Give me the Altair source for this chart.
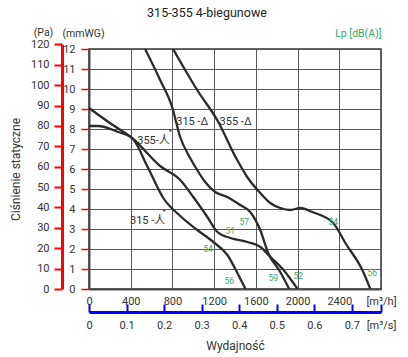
import altair as alt
import pandas as pd

# ---- data (x: flow m3/h, y: static pressure mmWG) ----
c355_star_x = [0, 200, 413, 682, 875, 1000, 1135, 1231, 1356, 1519, 1644, 1740, 1865, 2000]
c355_star_y = [9.05, 8.3, 7.55, 6.15, 5.45, 4.6, 3.6, 2.85, 2.55, 2.35, 2.1, 1.6, 0.95, 0.0]

c315_star_x = [0, 87, 279, 413, 567, 712, 875, 1038, 1192, 1327, 1423, 1500]
c315_star_y = [8.15, 8.15, 7.85, 7.55, 6.05, 4.55, 3.65, 2.95, 2.35, 1.7, 0.8, 0.0]

c315_delta_x = [538, 682, 797, 874, 970, 1037, 1114, 1210, 1325, 1450, 1546, 1642, 1718, 1834, 1920]
c315_delta_y = [12.0, 10.45, 9.1, 7.6, 6.55, 5.95, 5.35, 4.85, 4.6, 4.2, 3.85, 2.95, 1.8, 0.85, 0.0]

c355_delta_x = [806, 922, 1037, 1229, 1421, 1517, 1642, 1738, 1834, 1930, 2026, 2141, 2342, 2458, 2621, 2698]
c355_delta_y = [12.0, 10.95, 9.95, 8.45, 6.45, 5.6, 4.8, 4.3, 4.05, 3.95, 4.05, 3.85, 3.3, 2.3, 0.95, 0.0]

# sound level labels Lp dB(A)
lp_text = ["57", "51", "54", "56", "59", "52", "54", "56"]
lp_x = [1488, 1354, 1142, 1344, 1766, 2006, 2342, 2717]
lp_y = [3.35, 2.9, 2.0, 0.4, 0.55, 0.65, 3.35, 0.8]

# curve name labels
name_text = ["315 -Δ", "355 -Δ", "355-人", "315 -人"]
name_x = [990, 1406, 619, 562]
name_y = [8.35, 8.35, 7.4, 3.4]
star_x = [780, 722]
star_y = [7.85, 3.85]

flow_ticks = [0, 400, 800, 1200, 1600, 2000, 2400, 2800]
mm_ticks = list(range(0, 13))
pa_ticks = list(range(0, 130, 10))
ms_ticks = [0, 0.1, 0.2, 0.3, 0.4, 0.5, 0.6, 0.7, 2800 / 3600]

FONT = "Roboto, Noto Sans CJK SC, sans-serif"
DARK = "#2b2b2b"
GREEN = "#35a86b"
GRID = "#585858"
AX = "#4a4a4a"

rows = []
for name, xs_, ys_ in [("355s", c355_star_x, c355_star_y), ("315s", c315_star_x, c315_star_y),
                       ("315d", c315_delta_x, c315_delta_y), ("355d", c355_delta_x, c355_delta_y)]:
    for x, y in zip(xs_, ys_):
        rows.append({"curve": name, "q": x, "p": y})
df = pd.DataFrame(rows)


def xs():
    return alt.Scale(domain=[0, 2800], nice=False, zero=True)


def ys():
    return alt.Scale(domain=[0, 12], nice=False, zero=True)


def hidden():
    return alt.Axis(labels=False, ticks=False, domain=False, grid=False, title=None)


common = dict(labelOverlap=False, labelFont=FONT, titleFont=FONT)

x_axis = alt.Axis(values=flow_ticks, format="d", grid=True, gridColor=GRID, gridWidth=1,
                  ticks=False, tickSize=0, labelPadding=6, labelFontSize=11, labelColor="#333",
                  labelExpr="datum.value >= 2800 ? '[m³/h]' : datum.label", labelFlush=False,
                  domain=True, domainColor=AX, domainWidth=2,
                  title="Lp [dB(A)]", titleColor=GREEN, titleFontSize=10.5, titleFontWeight="normal",
                  titleAngle=0, titleX=292, titleY=-256, titleAlign="right", titleBaseline="middle",
                  **common)
y_axis = alt.Axis(values=mm_ticks, grid=True, gridColor=GRID, gridWidth=1,
                  ticks=True, tickSize=8, tickColor="red", tickWidth=1.5, labelPadding=6,
                  labelFontSize=11, labelColor="#333", domain=True, domainColor=AX, domainWidth=2,
                  title="(mmWG)", titleFontSize=10.5, titleFontWeight="normal", titleColor="#333",
                  titleAngle=0, titleX=-6, titleY=-16, titleAlign="center", titleBaseline="middle",
                  **common)

lines = alt.Chart(df).mark_line(color=DARK, strokeWidth=2.3, interpolate="monotone", clip=True).encode(
    x=alt.X("q:Q", scale=xs(), axis=x_axis),
    y=alt.Y("p:Q", scale=ys(), axis=y_axis),
    detail="curve:N",
)

lp_df = pd.DataFrame({"t": lp_text, "q": lp_x, "p": lp_y})
lp_layer = alt.Chart(lp_df).mark_text(color=GREEN, fontSize=8.5, font=FONT).encode(
    x=alt.X("q:Q", scale=xs(), axis=hidden()), y=alt.Y("p:Q", scale=ys(), axis=hidden()), text="t:N")

nm_df = pd.DataFrame({"t": name_text, "q": name_x, "p": name_y})
nm_layer = alt.Chart(nm_df).mark_text(color="#333", fontSize=11, font=FONT).encode(
    x=alt.X("q:Q", scale=xs(), axis=hidden()), y=alt.Y("p:Q", scale=ys(), axis=hidden()), text="t:N")

st_df = pd.DataFrame({"t": ["*", "*"], "q": star_x, "p": star_y})
st_layer = alt.Chart(st_df).mark_text(color="#333", fontSize=7, font=FONT).encode(
    x=alt.X("q:Q", scale=xs(), axis=hidden()), y=alt.Y("p:Q", scale=ys(), axis=hidden()), text="t:N")

# Pa axis
pa_df = pd.DataFrame({"pa": pa_ticks})
pa_layer = alt.Chart(pa_df).mark_point(opacity=0, size=0).encode(
    y=alt.Y("pa:Q", scale=alt.Scale(domain=[0, 120], range=[240, -4.6], nice=False),
            axis=alt.Axis(orient="left", offset=27, values=pa_ticks, grid=False,
                          ticks=True, tickSize=8, tickColor="red", tickWidth=2,
                          labelPadding=5, labelFontSize=11, labelColor="#333",
                          domain=True, domainColor="red", domainWidth=3,
                          title="(Pa)", titleFontSize=10.5, titleFontWeight="normal", titleColor="#333",
                          titleAngle=0, titleX=-19, titleY=-17, titleAlign="center",
                          titleBaseline="middle", **common))
)

# m3/s axis
ms_df = pd.DataFrame({"ms": ms_ticks})
ms_layer = alt.Chart(ms_df).mark_point(opacity=0, size=0).encode(
    x=alt.X("ms:Q", scale=alt.Scale(domain=[0, 2800 / 3600], nice=False, zero=True),
            axis=alt.Axis(orient="top", offset=-263, values=ms_ticks, grid=False, format=".1~f",
                          labelExpr="datum.value > 0.75 ? '[m³/s]' : datum.label", labelFlush=False,
                          ticks=True, tickSize=8, tickColor="blue", tickWidth=2,
                          labelPadding=-26,
                          labelBaseline="bottom", labelFontSize=11, labelColor="#333",
                          domain=True, domainColor="blue", domainWidth=3,
                          title="Wydajność", titleFontSize=12, titleFontWeight="normal",
                          titleColor="#333", titleAngle=0, titleX=146, titleY=33,
                          titleAlign="center", titleBaseline="middle", **common))
)

# y title
yt_df = pd.DataFrame({"d": [0, 1]})
yt_layer = alt.Chart(yt_df).mark_point(opacity=0, size=0).encode(
    y=alt.Y("d:Q", axis=alt.Axis(orient="left", offset=0, labels=False, ticks=False, domain=False,
                                 grid=False, title="Ciśnienie statyczne", titleFontSize=12,
                                 titleFontWeight="normal", titleColor="#333", titleAngle=270,
                                 titleX=-74, titleY=120, titleAlign="center",
                                 titleBaseline="middle", titleFont=FONT))
)

chart = alt.layer(lines, lp_layer, nm_layer, st_layer, pa_layer, ms_layer, yt_layer).resolve_scale(
    x="independent", y="independent"
).properties(
    width=292, height=240,
    title=alt.TitleParams("315-355 4-biegunowe", fontSize=12.5, fontWeight="normal", color="#222",
                          anchor="middle", frame="group", dx=-28, offset=8, font=FONT),
    autosize=alt.AutoSizeParams(type="none"),
    padding={"left": 89, "top": 49, "right": 27, "bottom": 68},
).configure_view(stroke="#333", strokeWidth=1.5).configure_text(font=FONT)

chart.save("out.html", embed_options={"renderer": "svg", "actions": False})
